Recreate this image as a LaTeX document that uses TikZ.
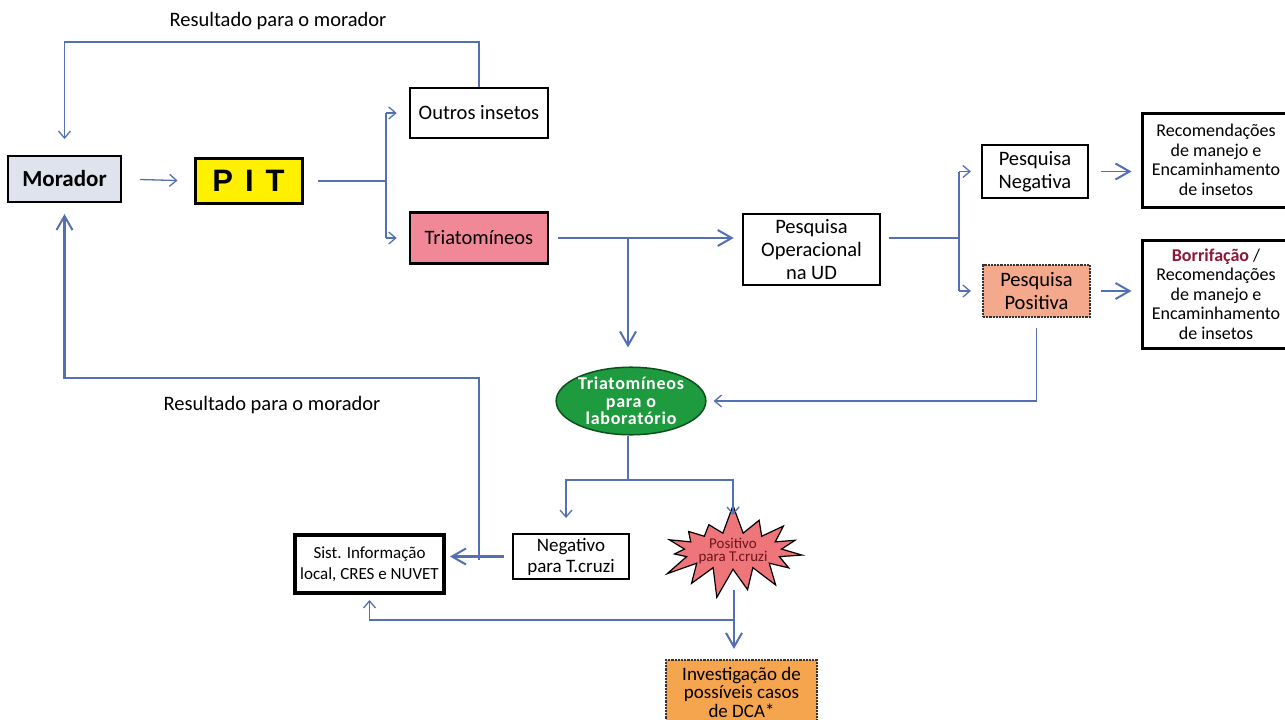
\documentclass[tikz,border=0pt]{standalone}
\usepackage{fontspec}
\setmainfont{Carlito}
\newfontfamily\pitfont{Liberation Sans}
\usetikzlibrary{shapes.symbols,shapes.geometric,arrows.meta}
\definecolor{ln}{RGB}{84,112,180}
\definecolor{morfill}{RGB}{222,227,238}
\definecolor{pityel}{RGB}{255,240,0}
\definecolor{triafill}{RGB}{240,136,152}
\definecolor{posfill}{RGB}{244,168,140}
\definecolor{labgreen}{RGB}{30,155,62}
\definecolor{labedge}{RGB}{12,80,28}
\definecolor{starfill}{RGB}{238,118,122}
\definecolor{invfill}{RGB}{245,165,78}
\definecolor{borr}{RGB}{140,24,56}
\definecolor{postxt}{RGB}{110,20,30}
\tikzset{
  box/.style={draw=black, line width=2.6pt, inner sep=0pt, align=center},
  dotbox/.style={draw=black!80, line width=2.2pt, densely dotted, inner sep=0pt, align=center},
  tline/.style={draw=ln, line width=1.3pt},
  tarr/.style={draw=ln, line width=1.3pt, -{Straight Barb[length=7pt,width=12pt,line width=1.3pt]}},
  Tarr/.style={draw=ln, line width=2.2pt, -{Straight Barb[length=14pt,width=16pt,line width=2pt]}},
  Tline/.style={draw=ln, line width=2.2pt},
  fa/.style={font=\fontsize{20.5}{23}\selectfont},
  fb/.style={font=\fontsize{18}{19.5}\selectfont},
}
\begin{document}
\begin{tikzpicture}[x=1pt,y=-1pt]
\useasboundingbox (0,0) rectangle (1285,720);
\clip (0,0) rectangle (1285,720);
\fill[white] (0,0) rectangle (1285,720);

% nodes
\node[box, line width=2pt, fill=morfill, minimum width=113pt, minimum height=46pt,
      font=\fontsize{23}{24}\selectfont\bfseries] (mor) at (64.5,179) {Morador};
\node[box, line width=3pt, fill=pityel, minimum width=107pt, minimum height=45pt,
      font=\pitfont\bfseries\fontsize{31}{31}\selectfont] (pit) at (248.5,181) {P\kern12pt I\kern12pt T};
\node[box, fa, minimum width=138pt, minimum height=50pt] (outros) at (479,113) {Outros insetos};
\node[box, fa, fill=triafill, minimum width=138pt, minimum height=51pt] (tria) at (479,238) {Triatomíneos};
\node[box, fa, minimum width=137pt, minimum height=71pt] (pop) at (811.5,249.5) {Pesquisa\\Operacional\\na UD};
\node[box, fa, line width=2.2pt, minimum width=106pt, minimum height=53pt] (pneg) at (1035,171.5) {Pesquisa\\Negativa};
\node[dotbox, fa, fill=posfill, minimum width=107pt, minimum height=52pt] (ppos) at (1036.5,291) {Pesquisa\\Positiva};
\node[box, fb, line width=3pt, minimum width=148pt, minimum height=94pt] (rec1) at (1216,160) {Recomendações\\de manejo e\\Encaminhamento\\de insetos};
\node[box, fb, line width=3pt, minimum width=148pt, minimum height=108pt] (rec2) at (1216,294)
  {{\bfseries\color{borr}Borrifação} /\\Recomendações\\de manejo e\\Encaminhamento\\de insetos};
\node[ellipse, draw=labedge, line width=1.5pt, fill=labgreen, inner sep=0pt, minimum width=146pt, minimum height=64pt,
      align=center, text=white, font=\fontsize{18}{17.5}\selectfont\bfseries\addfontfeatures{LetterSpace=4}] (lab) at (631,401)
  {Triatomíneos\\para o\\laboratório};
\node[box, line width=2.2pt, minimum width=116pt, minimum height=45pt, font=\fontsize{19}{21}\selectfont] (neg) at (571,556.5) {Negativo\\para T.cruzi};
\node[box, line width=4pt, minimum width=149pt, minimum height=58pt, font=\fontsize{17}{21}\selectfont] (sist) at (369.5,564) {Sist. Informação\\local, CRES e NUVET};
\node[starburst, draw=black, line width=1.2pt, fill=starfill, starburst points=15, starburst point height=30pt,
      random starburst=7, minimum width=148pt, minimum height=96pt, inner sep=0pt, align=center,
      text=postxt, font=\fontsize{15}{13}\selectfont] (pos) at (733,551) {Positivo\\para T.cruzi};
\node[dotbox, fill=invfill, minimum width=151pt, minimum height=64pt, font=\fontsize{19}{18.5}\selectfont] (inv) at (741.5,692) {Investigação de\\possíveis casos\\de DCA*};

% texts
\node[font=\fontsize{20.5}{22}\selectfont] (t1) at (278,21) {Resultado para o morador};
\node[font=\fontsize{20.5}{22}\selectfont] (t2) at (272,405) {Resultado para o morador};

% coordinates
\coordinate (c42) at (0,42);
\coordinate (br1) at (386,181);
\coordinate (br2) at (628,238);
\coordinate (br3) at (959,238);
\coordinate (j4) at (628,480);
\coordinate (negin) at (566,518);
\coordinate (posin) at (733,515);
\coordinate (j5) at (479,560);
\coordinate (c378) at (0,378);
\coordinate (posb) at (734,590);
\coordinate (j6) at (734,620);

% connectors
\draw[tarr, shorten >=16pt] (outros.north) -- (outros.north |- c42) -| (mor.north);
\draw[tarr, shorten <=18pt, shorten >=16pt] (mor.east) -- (pit.west);
\draw[tline, shorten <=14pt] (pit.east) -- (br1);
\draw[tline] (br1 |- outros.west) -- (br1 |- tria.west);
\draw[tarr, shorten >=12pt] (br1 |- outros.west) -- (outros.west);
\draw[tarr, shorten >=12pt] (br1 |- tria.west) -- (tria.west);
\draw[Tarr, shorten <=9pt, shorten >=8pt] (tria.east) -- (tria.east -| pop.west);
\draw[Tarr, shorten >=19pt] (br2) -- (br2 |- lab.north);
\draw[tline, shorten <=8pt] (pop.east |- br3) -- (br3);
\draw[tline] (br3 |- pneg.west) -- (br3 |- ppos.west);
\draw[tarr, shorten >=10pt] (br3 |- pneg.west) -- (pneg.west);
\draw[tarr, shorten >=11pt] (br3 |- ppos.west) -- (ppos.west);
\draw[Tarr, line width=1.8pt, shorten <=12pt, shorten >=9pt] (pneg.east) -- (rec1.west |- pneg.east);
\draw[Tarr, line width=1.8pt, shorten <=10pt, shorten >=9pt] (ppos.east) -- (rec2.west |- ppos.east);
\draw[tarr, shorten <=10pt, shorten >=7pt] (ppos.south) |- (lab.east);
\draw[tline] (lab.south -| j4) -- (j4);
\draw[tarr] (j4) -| (negin);
\draw[tarr] (j4) -| (posin);
\draw[Tarr, shorten <=8pt, shorten >=4pt] (neg.west) -- (sist.east |- neg.west);
\draw[Tarr, line width=2.6pt, shorten >=11pt] (j5) -- (j5 |- c378) -| (mor.south);
\draw[Tarr, line width=1.8pt, shorten >=10pt] (posb) -- (posb |- inv.north);
\draw[tarr, shorten >=5pt] (j6) -| (sist.south);
\end{tikzpicture}
\end{document}
